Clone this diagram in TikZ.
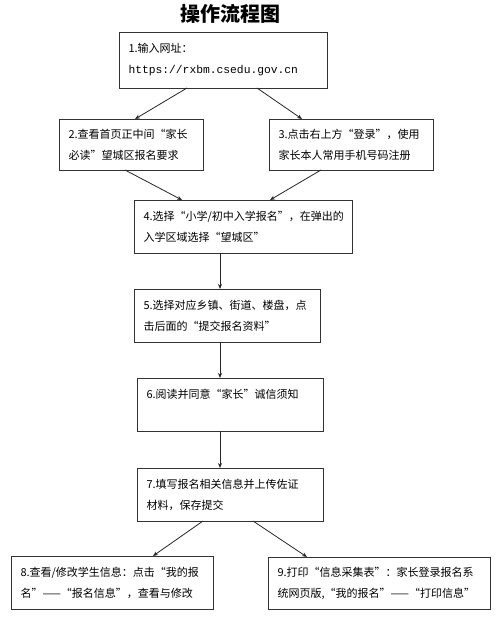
\documentclass[tikz,border=0pt]{standalone}
\usepackage{fontspec}
\newfontfamily\cjk{Noto Sans CJK SC}
\newfontfamily\urlfont{Liberation Mono}
\usetikzlibrary{arrows.meta}
\tikzset{
  box/.style={draw=black!80, line width=0.9pt, rectangle, anchor=north west,
    inner xsep=9.5pt, inner ysep=0pt, outer sep=0pt, align=left,
    font=\cjk\fontsize{11pt}{21pt}\selectfont},
  arr/.style={draw=black!85, line width=0.8pt, -{Stealth[length=5pt,width=4pt]}}
}
\newcommand{\mybox}[6]{% name, x, y, w, h, text
  \node[box, minimum width=#4pt, minimum height=#5pt, text width=\fpeval{#4-19}pt] (#1) at (#2,#3) {#6};}
\begin{document}
\begin{tikzpicture}[x=1pt,y=-1pt]
\useasboundingbox[fill=white] (0,0) rectangle (499,617);
\node[font=\cjk\bfseries\fontsize{20pt}{24pt}\selectfont] (title) at (230,14) {操作流程图};
\mybox{b1}{119}{32}{208}{56}{1.输入网址：\\{\urlfont\fontsize{11.3pt}{21pt}\selectfont https://rxbm.csedu.gov.cn}}
\mybox{b2}{59}{119}{144}{51}{2.查看首页正中间“家长\\必读”望城区报名要求}
\mybox{b3}{269}{119}{164}{51}{3.点击右上方“登录”，使用\\家长本人常用手机号码注册}
\mybox{b4}{134}{200}{218}{53}{4.选择“小学/初中入学报名”，在弹出的\\入学区域选择“望城区”}
\mybox{b5}{134}{289}{186}{53}{5.选择对应乡镇、街道、楼盘，点\\击后面的“提交报名资料”}
\mybox{b6}{137}{378}{186}{53}{6.阅读并同意“家长”诚信须知\\\mbox{}}
\mybox{b7}{137}{468}{186}{53}{7.填写报名相关信息并上传佐证\\材料，保存提交}
\mybox{b8}{11}{556}{202}{53}{8.查看/修改学生信息：点击“我的报\\名”——“报名信息”，查看与修改}
\mybox{b9}{268}{557}{222}{52}{9.打印“信息采集表”：家长登录报名系\\统网页版,“我的报名”——“打印信息”}
\draw[arr] ([xshift=68pt]b1.south west) -- ([xshift=76pt]b2.north west);
\draw[arr] ([xshift=138pt]b1.south west) -- ([xshift=33pt]b3.north west);
\draw[arr] ([xshift=66pt]b2.south west) -- ([xshift=48pt]b4.north west);
\draw[arr] ([xshift=52pt]b3.south west) -- ([xshift=136pt]b4.north west);
\draw[arr] ([xshift=86pt]b4.south west) -- ([xshift=86pt]b5.north west);
\draw[arr] ([xshift=86pt]b5.south west) -- ([xshift=83pt]b6.north west);
\draw[arr] ([xshift=83pt]b6.south west) -- ([xshift=83pt]b7.north west);
\draw[arr] ([xshift=66pt]b7.south west) -- ([xshift=142pt]b8.north west);
\draw[arr] ([xshift=116pt]b7.south west) -- ([xshift=39pt]b9.north west);
\end{tikzpicture}
\end{document}
